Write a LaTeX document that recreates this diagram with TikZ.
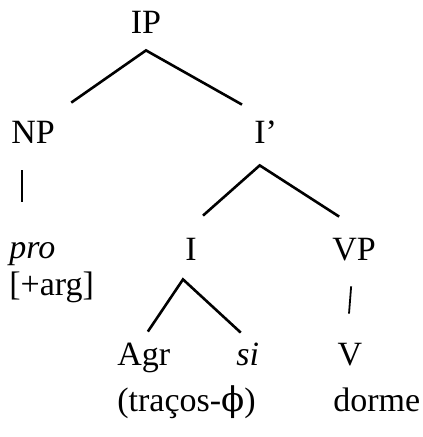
\documentclass[tikz,border=0pt]{standalone}
\usepackage{fontspec}
\setmainfont{Liberation Serif}
\newfontfamily\phifont{DejaVu Serif}
\begin{document}
\begin{tikzpicture}[x=0.5pt, y=-0.5pt, every node/.style={inner sep=0, text height=11pt, text depth=3pt, font=\fontsize{17}{20}\selectfont}, branch/.style={line width=1.3pt}, bar/.style={line width=0.9pt}]
            \useasboundingbox (0,0) rectangle (422,437);

            % Nodes
            \node[anchor=base] (IP) at (146,34) {IP};
            \node[anchor=base west] (NP) at (11,144) {NP};
            \node[anchor=base west] (I1) at (254,144) {I’};
            \node[anchor=base west] (pro) at (9,259) {\itshape pro};
            \node[anchor=base west] (arg) at (9,295) {[+arg]};
            \node[anchor=base] (I) at (191,261) {I};
            \node[anchor=base west] (VP) at (332,261) {VP};
            \node[anchor=base west] (Agr) at (117,365) {Agr};
            \node[anchor=base west] (si) at (236,365) {\itshape si};
            \node[anchor=base] (V) at (350,365) {V};
            \node[anchor=base west] (traco) at (117,411) {(traços-{\phifont ϕ})};
            \node[anchor=base west] (dorme) at (333,411) {dorme};

            % Edges
            \draw[branch] ([shift={(16,-19)}]NP.north east) -- ([shift={(0,10)}]IP.south) -- ([shift={(-12,-17)}]I1.north west);
            \draw[branch] ([shift={(12,-23)}]I.north) -- ([shift={(-6,15)}]I1.south) -- ([shift={(-15,-22)}]VP.north);
            \draw[branch] ([shift={(4,-11)}]Agr.north) -- ([shift={(-8,12)}]I.south) -- ([shift={(-7,-10)}]si.north);

            % Unary branches
            \draw[bar] ([shift={(11,20)}]NP.south west) -- ([shift={(13,-35)}]pro.north west);
            \draw[bar] ([shift={(-3,19)}]VP.south) -- ([shift={(-1,-29)}]V.north);
        \end{tikzpicture}
\end{document}
